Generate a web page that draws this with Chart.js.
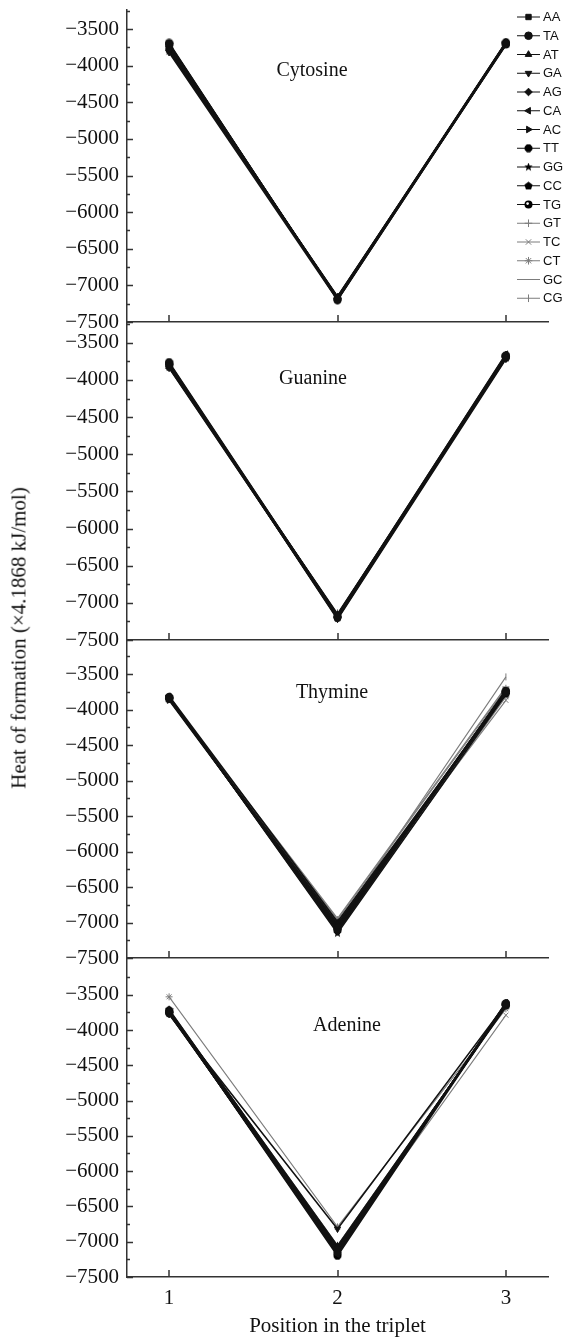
<!DOCTYPE html>
<html>
<head>
<meta charset="utf-8">
<script src="https://cdn.jsdelivr.net/npm/chart.js@4.4.0/dist/chart.umd.min.js"></script>
<style>
  body { margin: 0; background: #fff; }
  #wrap { position: relative; width: 579px; height: 1340px; overflow: hidden; }
  #wrap canvas { position: absolute; left: 0; }
  #ytitle {
    position: absolute; left: 19px; top: 638px;
    transform: translate(-50%, -50%) rotate(-90deg);
    white-space: nowrap; font: 21px 'Liberation Serif', serif; color: #111;
  }
</style>
</head>
<body>
<div id="wrap">
  <canvas id="cytosineChart"></canvas>
  <canvas id="guanineChart"></canvas>
  <canvas id="thymineChart"></canvas>
  <canvas id="adenineChart"></canvas>
  <div id="ytitle">Heat of formation (×4.1868 kJ/mol)</div>
</div>
<script>
const positions = [1, 2, 3];
const codons = ['AA', 'TA', 'AT', 'GA', 'AG', 'CA', 'AC', 'TT', 'GG', 'CC', 'TG', 'GT', 'TC', 'CT', 'GC', 'CG'];
const yLabelTicks = [-7500, -7000, -6500, -6000, -5500, -5000, -4500, -4000, -3500];
const yMinorTicks = [-7250, -6750, -6250, -5750, -5250, -4750, -4250, -3750, -3250];

// one row per codon: value at position 1, 2, 3
const cytosine = [
    [-3780, -7170, -3690], [-3700, -7190, -3700], [-3760, -7160, -3680], [-3820, -7200, -3710],
    [-3740, -7180, -3690], [-3790, -7150, -3700], [-3720, -7170, -3720], [-3710, -7190, -3680],
    [-3800, -7160, -3700], [-3770, -7180, -3690], [-3690, -7200, -3710], [-3750, -7170, -3700],
    [-3810, -7150, -3690], [-3730, -7190, -3680], [-3760, -7160, -3710], [-3700, -7180, -3700]
];
const guanine = [
    [-3800, -7180, -3680], [-3770, -7200, -3700], [-3820, -7160, -3660], [-3790, -7220, -3720],
    [-3840, -7190, -3690], [-3780, -7170, -3650], [-3810, -7210, -3700], [-3760, -7180, -3670],
    [-3830, -7150, -3710], [-3800, -7200, -3690], [-3790, -7190, -3680], [-3820, -7170, -3700],
    [-3780, -7210, -3660], [-3810, -7180, -3690], [-3800, -7160, -3710], [-3840, -7200, -3680]
];
const thymine = [
    [-3840, -7050, -3760], [-3820, -7100, -3740], [-3860, -7020, -3780], [-3830, -7130, -3720],
    [-3850, -7080, -3750], [-3810, -6990, -3770], [-3870, -7060, -3730], [-3840, -7110, -3760],
    [-3820, -7150, -3790], [-3850, -7040, -3740], [-3830, -7090, -3750], [-3860, -6960, -3700],
    [-3840, -7000, -3870], [-3820, -7120, -3820], [-3850, -6940, -3680], [-3830, -7030, -3540]
];
const adenine = [
    [-3740, -7100, -3640], [-3760, -7150, -3620], [-3720, -7060, -3660], [-3780, -6820, -3630],
    [-3750, -7120, -3650], [-3730, -7180, -3610], [-3770, -7080, -3670], [-3740, -7200, -3640],
    [-3760, -7140, -3620], [-3710, -7090, -3650], [-3750, -7170, -3630], [-3720, -7050, -3660],
    [-3780, -7110, -3790], [-3530, -6790, -3700], [-3760, -7130, -3640], [-3740, -7060, -3650]
];

const serif = "'Liberation Serif', 'Times New Roman', serif";

// small filled glyphs that Chart.js has no built-in style for
function glyph(kind) {
    const c = document.createElement('canvas');
    c.width = c.height = 9;
    const g = c.getContext('2d');
    g.fillStyle = '#000';
    g.beginPath();
    if (kind === 'star') {
        for (let i = 0; i < 10; i++) {
            const r = i % 2 ? 1.9 : 4.5;
            const a = -Math.PI / 2 + i * Math.PI / 5;
            g.lineTo(4.5 + r * Math.cos(a), 4.5 + r * Math.sin(a));
        }
    } else if (kind === 'pentagon') {
        for (let i = 0; i < 5; i++) {
            const a = -Math.PI / 2 + i * 2 * Math.PI / 5;
            g.lineTo(4.5 + 4.3 * Math.cos(a), 4.8 + 4.3 * Math.sin(a));
        }
    } else if (kind === 'octagon') {
        for (let i = 0; i < 8; i++) {
            const a = Math.PI / 8 + i * Math.PI / 4;
            g.lineTo(4.5 + 4.2 * Math.cos(a), 4.5 + 4.2 * Math.sin(a));
        }
    } else {
        g.arc(4.5, 4.5, 4, 0, Math.PI * 2);
    }
    g.closePath();
    g.fill();
    if (kind === 'ball') {
        g.fillStyle = '#fff';
        g.beginPath();
        g.arc(3.6, 3.6, 1.3, 0, Math.PI * 2);
        g.fill();
    }
    return c;
}

const markers = [
    { style: 'rect', rot: 0 }, { style: 'circle', rot: 0 }, { style: 'triangle', rot: 0 },
    { style: 'triangle', rot: 180 }, { style: 'rectRot', rot: 0 }, { style: 'triangle', rot: 270 },
    { style: 'triangle', rot: 90 }, { style: glyph('octagon'), rot: 0 }, { style: glyph('star'), rot: 0 },
    { style: glyph('pentagon'), rot: 0 }, { style: glyph('ball'), rot: 0 }, { style: 'cross', rot: 0 },
    { style: 'crossRot', rot: 0 }, { style: 'star', rot: 0 }, { style: 'line', rot: 0 },
    { style: 'line', rot: 90 }
];

function seriesColor(i) {
    return i < 11 ? '#111' : '#7c7c7c';
}

function makeDatasets(values) {
    return codons.map((name, i) => ({
        label: name,
        data: values[i],
        borderColor: seriesColor(i),
        backgroundColor: seriesColor(i),
        borderWidth: i < 11 ? 1.6 : 1.1,
        pointStyle: markers[i].style,
        pointRotation: markers[i].rot,
        pointRadius: 3.5,
        pointBorderWidth: 1,
        tension: 0
    }));
}

// inward tick marks: long on labelled values, short in between
const innerTicks = {
    id: 'innerTicks',
    afterDraw(chart) {
        const { ctx, chartArea, scales } = chart;
        ctx.save();
        ctx.strokeStyle = '#333';
        ctx.lineWidth = 1.5;
        ctx.beginPath();
        scales.y.ticks.forEach(t => {
            const y = Math.round(scales.y.getPixelForValue(t.value)) + 0.5;
            const len = yLabelTicks.includes(t.value) ? 6 : 3;
            ctx.moveTo(chartArea.left, y);
            ctx.lineTo(chartArea.left + len, y);
        });
        scales.x.ticks.forEach(t => {
            const x = Math.round(scales.x.getPixelForValue(t.value));
            ctx.moveTo(x, chartArea.bottom);
            ctx.lineTo(x, chartArea.bottom - 7);
        });
        ctx.stroke();
        ctx.restore();
    }
};

const panelName = {
    id: 'panelName',
    afterDraw(chart, args, opts) {
        const { ctx, chartArea } = chart;
        ctx.save();
        ctx.font = '20px ' + serif;
        ctx.fillStyle = '#111';
        ctx.textAlign = 'center';
        ctx.textBaseline = 'middle';
        ctx.fillText(opts.text, chartArea.left + opts.dx, chartArea.top + opts.dy);
        ctx.restore();
    }
};

const codonLegend = {
    id: 'codonLegend',
    afterDraw(chart, args, opts) {
        if (!opts.show) return;
        const ctx = chart.ctx;
        ctx.save();
        chart.data.datasets.forEach((ds, i) => {
            const y = 17 + i * 18.75;
            ctx.strokeStyle = ds.borderColor;
            ctx.fillStyle = ds.backgroundColor;
            ctx.lineWidth = 1;
            ctx.beginPath();
            ctx.moveTo(517, y);
            ctx.lineTo(540, y);
            ctx.stroke();
            Chart.helpers.drawPoint(ctx, {
                pointStyle: ds.pointStyle, rotation: ds.pointRotation, radius: 3.8, borderWidth: 1
            }, 528.5, y);
            ctx.fillStyle = '#111';
            ctx.font = "13px 'Liberation Sans', Arial, sans-serif";
            ctx.textBaseline = 'middle';
            ctx.fillText(ds.label, 543, y + 0.5);
        });
        ctx.restore();
    }
};

function makeChart(id, top, height, values, yMax, name, dx, dy, bottom) {
    const canvas = document.getElementById(id);
    canvas.width = 579;
    canvas.height = height;
    canvas.style.top = top + 'px';
    return new Chart(canvas, {
        type: 'line',
        data: { labels: positions, datasets: makeDatasets(values) },
        options: {
            responsive: false,
            animation: false,
            layout: { padding: { top: 10, right: 31, bottom: bottom ? 0 : 18, left: 0 } },
            plugins: {
                legend: { display: false },
                tooltip: { enabled: false },
                panelName: { text: name, dx: dx, dy: dy },
                codonLegend: { show: id === 'cytosineChart' }
            },
            scales: {
                x: {
                    type: 'linear',
                    min: 0.75,
                    max: 3.25,
                    grid: { display: false, drawTicks: false },
                    border: { color: '#333', width: 1.5 },
                    ticks: {
                        display: bottom, color: '#111', padding: 9,
                        font: { family: serif, size: 21 }
                    },
                    afterBuildTicks(s) { s.ticks = positions.map(v => ({ value: v })); },
                    title: {
                        display: bottom, text: 'Position in the triplet', color: '#111',
                        font: { family: serif, size: 21 }, padding: { top: 0, bottom: 1 }
                    },
                    afterFit(s) {
                        s.height = bottom ? 63 : 0;
                        s.paddingLeft = 0;
                        s.paddingRight = 0;
                    }
                },
                y: {
                    min: -7500,
                    max: yMax,
                    grid: { display: false, drawTicks: false },
                    border: { color: '#333', width: 1.5 },
                    ticks: {
                        autoSkip: false, padding: 8, color: '#111',
                        font: { family: serif, size: 21 },
                        callback: v => (yLabelTicks.includes(v) ? '\u2212' + Math.abs(v) : '')
                    },
                    afterBuildTicks(s) {
                        s.ticks = yLabelTicks.concat(yMinorTicks)
                            .filter(v => v >= s.min && v <= s.max)
                            .sort((a, b) => a - b)
                            .map(v => ({ value: v }));
                    },
                    afterFit(s) {
                        s.width = 127;
                        s.paddingTop = 0;
                        s.paddingBottom = 0;
                    }
                }
            }
        },
        plugins: [innerTicks, panelName, codonLegend]
    });
}

makeChart('cytosineChart', 0, 340, cytosine, -3240, 'Cytosine', 185, 61, false);
makeChart('guanineChart', 312, 346, guanine, -3220, 'Guanine', 186, 57, false);
makeChart('thymineChart', 630, 346, thymine, -3020, 'Thymine', 205, 53, false);
makeChart('adenineChart', 948, 392, adenine, -2980, 'Adenine', 220, 68, true);
</script>
</body>
</html>
